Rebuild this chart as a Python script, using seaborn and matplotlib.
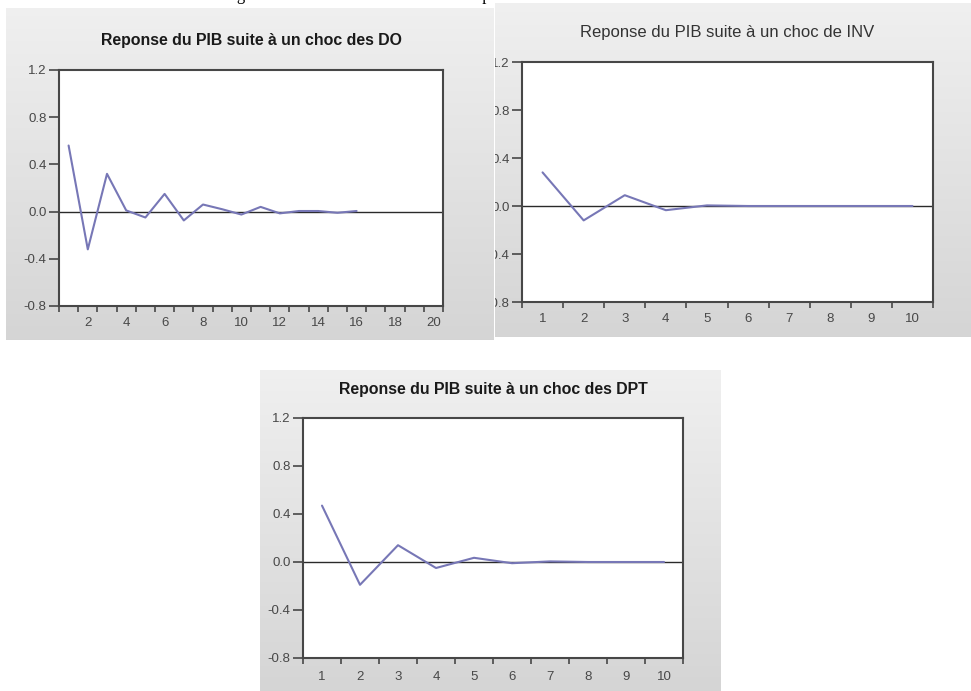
import numpy as np
import matplotlib
matplotlib.use("Agg")
import matplotlib.pyplot as plt
import seaborn as sns
from matplotlib.transforms import Bbox, TransformedBbox

# ---------------- data ----------------
caption = "Figure 3 : Résultats des fonctions de réponses"

title_do = "Reponse du PIB suite à un choc des DO"
title_inv = "Reponse du PIB suite à un choc de INV"
title_dpt = "Reponse du PIB suite à un choc des DPT"

periods_do = [1, 2, 3, 4, 5, 6, 7, 8, 9, 10, 11, 12, 13, 14, 15, 16]
resp_do = [0.56, -0.32, 0.32, 0.01, -0.05, 0.15, -0.075, 0.06, 0.02, -0.025,
           0.04, -0.015, 0.005, 0.005, -0.01, 0.005]

periods_inv = [1, 2, 3, 4, 5, 6, 7, 8, 9, 10]
resp_inv = [0.28, -0.12, 0.09, -0.035, 0.005, 0.0, 0.0, 0.0, 0.0, 0.0]

periods_dpt = [1, 2, 3, 4, 5, 6, 7, 8, 9, 10]
resp_dpt = [0.47, -0.19, 0.14, -0.05, 0.035, -0.01, 0.005, 0.0, 0.0, 0.0]

y_ticks = [-0.8, -0.4, 0.0, 0.4, 0.8, 1.2]
y_ticklabels = ["-0.8", "-0.4", "0.0", "0.4", "0.8", "1.2"]
x_ticks_do = [2, 4, 6, 8, 10, 12, 14, 16, 18, 20]
x_ticks_10 = [1, 2, 3, 4, 5, 6, 7, 8, 9, 10]

# ---------------- style ----------------
sns.set_theme(style="white")
plt.rcParams['font.family'] = ['Liberation Sans', 'DejaVu Sans']

W, H = 971, 691
fig = plt.figure(figsize=(W / 100, H / 100), dpi=100)
fig.patch.set_facecolor("white")

LINE_COLOR = "#7777b6"
SPINE_COLOR = "#474747"
TICK_LABEL_COLOR = "#484848"


def frac_rect(x0, y0, x1, y1):
    """pixel box (top-left origin) -> figure fraction rect"""
    return [x0 / W, 1 - y1 / H, (x1 - x0) / W, (y1 - y0) / H]


def gray_panel(x0, y0, x1, y1):
    bg = fig.add_axes(frac_rect(x0, y0, x1, y1), zorder=0)
    grad = np.linspace(0.94, 0.835, 256).reshape(-1, 1)
    bg.imshow(np.dstack([grad, grad, grad]), aspect="auto", extent=[0, 1, 0, 1])
    bg.set_axis_off()
    return bg


def irf_panel(rect_px, periods, values, title, xmax, xticks, title_y, bold,
              title_size, tick_size=9.5, xpad=6, tick_clip=None):
    x0, y0, x1, y1 = rect_px
    ax = fig.add_axes(frac_rect(x0, y0, x1, y1), zorder=2)
    ax.set_facecolor("white")
    ax.axhline(0, color="#2a2a2a", lw=1.0, zorder=2)
    sns.lineplot(x=periods, y=values, ax=ax, color=LINE_COLOR, lw=1.5, zorder=3)
    ax.set_xlim(0.5, xmax + 0.5)
    ax.set_ylim(-0.8, 1.2)
    ax.set_yticks(y_ticks, labels=y_ticklabels)
    ax.set_xticks(xticks, labels=[str(v) for v in xticks])
    ax.set_xticks(np.arange(0.5, xmax + 1, 1.0), minor=True)
    ax.tick_params(axis="y", which="major", direction="out", length=7, width=1.2,
                   color=SPINE_COLOR, labelsize=tick_size, labelcolor=TICK_LABEL_COLOR,
                   pad=2, left=True)
    ax.tick_params(axis="x", which="major", length=0, labelsize=tick_size,
                   labelcolor=TICK_LABEL_COLOR, pad=xpad, bottom=True)
    ax.tick_params(axis="x", which="minor", direction="out", length=4, width=1.2,
                   color=SPINE_COLOR, bottom=True)
    for s in ax.spines.values():
        s.set_color(SPINE_COLOR)
        s.set_linewidth(1.5)
    ax.set_xlabel("")
    ax.set_ylabel("")
    cx = (x0 + x1) / 2 / W
    fig.text(cx, 1 - title_y / H, title, ha="center", va="center",
             fontsize=title_size, fontweight="bold" if bold else "normal",
             color="#1a1a1a" if bold else "#333333", zorder=5)
    if tick_clip is not None:
        cb = TransformedBbox(Bbox.from_extents(*tick_clip), fig.transFigure)
        for t in ax.yaxis.get_major_ticks():
            t.label1.set_clip_box(cb)
            t.label1.set_clip_on(True)
    return ax


# gray screenshot backgrounds
gray_panel(6, 8, 493, 340)
gray_panel(495, 3, 971, 337)
gray_panel(260, 370, 721, 691)

# panels
irf_panel((59, 70, 443, 306), periods_do, resp_do, title_do, 20, x_ticks_do,
          title_y=41, bold=True, title_size=11.4, xpad=8)
irf_panel((522, 62, 933, 302), periods_inv, resp_inv, title_inv, 10, x_ticks_10,
          title_y=33, bold=False, title_size=12.0, xpad=8,
          tick_clip=(495 / W, 0, 1, 1))
irf_panel((303, 418, 683, 658), periods_dpt, resp_dpt, title_dpt, 10, x_ticks_10,
          title_y=389, bold=True, title_size=11.4, xpad=9)

# cut-off caption at the very top (only descenders visible)
fig.text(223 / W, 1 + 0.5 / H, caption, ha="left", va="baseline",
         family=["Liberation Serif", "DejaVu Serif"], fontsize=12, color="black",
         zorder=1)

fig.savefig("out.png", dpi=100, facecolor="white")
